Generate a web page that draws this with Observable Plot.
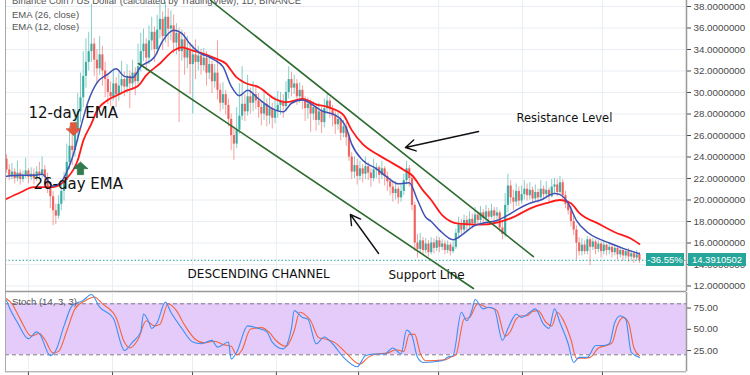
<!DOCTYPE html>
<html><head><meta charset="utf-8">
<script src="https://cdn.jsdelivr.net/npm/d3@7"></script>
<script src="https://cdn.jsdelivr.net/npm/@observablehq/plot@0.6"></script>
<style>
body{margin:0;background:#fff;}
#wrap{position:relative;width:750px;height:375px;overflow:hidden;background:#fff;font-family:"Liberation Sans",Arial,sans-serif;}
#wrap svg{position:absolute;left:0;}
.leg{position:absolute;left:12px;color:#555;font-size:9.5px;white-space:nowrap;line-height:1;}
.tag{position:absolute;background:#26a69a;color:#fff;font-size:9.5px;line-height:13px;height:13px;text-align:center;white-space:nowrap;}
</style></head><body><div id="wrap"></div>
<script>
// ---------- DATA ----------
const titleText = "Binance Coin / US Dollar (calculated by TradingView), 1D, BINANCE";
const legendTexts = ["EMA (26, close)", "EMA (12, close)"];
const stochLegend = "Stoch (14, 3, 3)";
const firstOpen = 23.8;
const closes = [
22.8,22.2,22.6,22.0,22.5,21.9,22.3,22.7,22.1,22.4,
22.0,22.6,22.3,22.8,22.1,21.2,20.3,19.0,18.5,19.6,
20.8,21.8,23.5,25.0,24.6,26.5,28.2,29.5,31.5,32.8,
33.8,34.5,33.0,32.2,33.5,32.0,31.2,30.0,29.6,30.8,
29.8,30.6,31.2,30.5,31.5,30.8,31.8,31.0,32.4,33.8,
34.5,33.2,34.8,35.6,34.0,35.8,36.8,35.2,37.0,35.9,
36.2,34.6,35.5,33.8,34.9,33.2,34.0,32.6,33.5,32.8,
33.4,32.5,33.2,31.8,32.6,31.0,31.8,30.2,29.0,29.8,
28.8,27.5,26.0,25.2,26.5,27.8,28.9,28.2,29.6,29.0,
29.8,29.2,28.6,28.0,28.9,27.8,28.5,27.6,28.3,28.8,
29.2,28.7,30.0,31.2,30.4,30.8,29.6,30.2,29.2,28.5,
28.9,28.0,28.6,27.4,28.2,27.2,28.5,29.2,28.4,27.8,
27.0,27.5,26.2,26.8,25.8,24.0,22.6,23.2,22.2,22.9,
22.4,23.1,22.5,22.0,22.8,23.0,22.3,22.9,22.2,21.7,
21.2,20.6,21.0,20.2,20.8,21.8,22.9,22.0,19.5,16.0,
15.4,16.2,15.3,15.9,15.1,16.0,15.5,16.2,15.6,15.9,
15.3,15.8,15.2,15.6,16.9,17.7,17.2,18.1,17.6,18.2,
17.8,18.6,18.1,18.8,18.3,18.9,18.4,19.0,18.5,18.8,
17.4,16.8,19.5,21.3,20.2,19.8,20.8,19.9,20.5,21.0,
20.4,20.9,20.1,20.7,20.2,21.0,20.5,20.9,20.3,21.2,
21.4,20.7,21.6,20.4,19.6,19.0,18.0,17.2,16.0,15.2,
15.8,15.2,16.3,15.6,16.1,15.4,15.9,15.2,15.8,15.3,
15.6,15.1,15.5,14.9,15.3,14.8,15.2,14.7,15.0,14.6,
14.9,14.3910502];
const highs = [
24.2,23.3,23.4,22.9,23.6,22.8,22.7,23.9,22.9,23.0,
22.9,23.1,23.5,24.0,23.2,22.5,21.6,20.8,19.6,20.4,
21.5,22.6,25.2,26.8,26.2,28.4,29.9,31.8,33.8,35.0,
35.6,38.2,35.0,34.0,35.2,34.3,32.8,31.7,31.0,32.2,
31.4,31.8,32.9,31.9,32.6,32.0,33.0,32.3,34.5,35.5,
35.9,35.0,36.2,37.0,36.1,37.2,38.3,37.5,38.4,37.8,
37.6,37.2,36.4,36.0,35.8,35.6,35.2,34.6,34.4,34.9,
34.3,34.0,34.1,33.8,33.4,32.9,32.6,34.8,30.8,30.9,
30.2,29.4,28.0,26.8,28.6,30.8,32.4,29.8,31.6,30.4,
31.0,30.5,29.9,29.2,30.0,29.4,29.5,29.0,29.6,30.1,
30.0,29.8,31.0,32.4,31.9,31.6,31.2,30.9,30.6,29.6,
29.5,29.3,29.1,28.9,29.0,28.6,29.4,30.0,29.5,28.8,
28.4,28.2,27.8,27.4,27.2,26.2,24.4,24.0,23.8,23.6,
23.3,24.0,23.5,22.9,23.8,23.4,23.2,23.6,23.1,22.6,
22.0,21.6,21.7,21.3,21.4,22.4,23.6,23.2,22.3,19.8,
16.8,16.9,16.5,16.4,16.2,16.5,16.4,16.6,16.5,16.3,
16.2,16.2,16.0,16.1,17.3,18.4,18.2,18.6,18.5,18.9,
18.7,19.3,18.9,19.4,19.1,19.5,19.2,19.6,19.3,19.3,
19.0,17.9,20.6,22.4,21.8,20.9,21.5,21.2,21.3,21.8,
21.5,21.6,21.2,21.4,21.0,21.8,21.3,21.7,21.1,21.9,
22.0,21.9,22.2,21.9,20.8,19.9,19.4,18.5,17.6,16.5,
16.4,16.2,16.6,16.5,16.4,16.3,16.2,16.1,16.2,15.9,
16.0,15.9,15.8,15.7,15.6,15.5,15.4,15.5,15.3,15.2,
15.3,15.1];
const lows = [
22.5,21.8,21.9,21.5,21.7,21.4,21.6,22.0,21.5,21.8,
21.4,21.7,21.9,22.0,21.5,20.6,19.2,17.6,17.7,18.2,
19.0,19.9,21.0,22.8,23.2,24.0,25.4,27.2,28.6,30.4,
32.0,32.8,31.5,30.8,31.6,30.6,29.5,28.9,28.7,29.2,
28.6,29.2,29.8,29.6,29.9,28.5,30.2,29.7,30.6,31.9,
32.9,32.0,32.6,33.9,32.8,33.5,35.0,33.9,34.6,34.2,
34.8,33.6,33.5,27.2,32.9,31.6,32.2,29.8,28.0,31.2,
32.0,31.6,32.0,30.6,31.2,29.9,30.4,29.3,28.2,28.4,
27.9,26.8,24.6,23.7,24.8,26.1,27.4,27.3,27.8,28.0,
28.2,28.4,27.6,26.9,27.4,26.8,27.0,26.6,27.1,27.6,
27.9,27.6,28.2,29.4,29.6,29.8,28.8,29.0,28.4,27.3,
27.5,26.3,27.4,26.4,26.9,26.2,26.7,28.0,27.6,26.8,
26.1,26.5,25.5,25.8,25.0,23.6,21.9,22.0,21.4,21.8,
21.6,21.9,21.8,21.2,21.7,22.0,21.5,21.9,21.3,20.8,
20.4,19.8,20.0,19.6,19.8,20.4,21.4,21.2,19.0,15.2,
14.6,15.0,14.9,15.0,14.7,14.9,15.0,15.2,15.1,15.3,
14.9,15.0,14.8,15.0,15.4,16.5,16.8,16.9,17.1,17.2,
17.3,17.6,17.6,17.8,17.7,18.0,17.9,18.2,17.7,17.9,
17.0,16.3,16.5,18.8,19.6,19.0,19.4,19.4,19.6,20.0,
19.9,20.0,19.7,19.8,19.7,19.9,20.0,20.1,19.8,20.2,
20.6,20.3,20.5,20.0,19.2,18.6,17.5,16.7,14.4,14.8,
14.8,14.9,14.9,13.9,15.3,14.9,15.1,14.6,14.9,14.8,
14.9,14.6,14.8,14.4,14.6,14.3,14.5,14.2,14.4,14.1,
14.3,14.1];
// EMA readings [bar, value]
const ema26 = [[0,20.1],[5,20.7],[10,21.2],[17,21.2],[22,22.0],[26,23.7],[28,25.5],[31,27.1],[33,28.3],[37,29.3],[40,29.7],[44,30.2],[48,30.6],[51,31.6],[56,32.7],[61,33.9],[64,34.2],[68,33.9],[72,33.6],[76,33.2],[80,32.7],[84,31.4],[87,30.9],[92,30.5],[98,29.4],[102,29.1],[108,29.4],[113,28.9],[118,28.6],[123,27.9],[126,26.5],[130,25.2],[135,24.3],[139,23.7],[145,22.8],[148,22.3],[152,20.9],[155,20.0],[159,18.6],[165,17.8],[173,17.7],[179,17.9],[185,18.4],[191,19.2],[197,19.7],[202,20.0],[206,19.7],[209,18.8],[216,17.8],[222,17.0],[228,16.4],[231,15.9]];
const ema12 = [[0,22.2],[5,22.3],[10,22.3],[13,22.4],[17,21.3],[20,21.7],[22,22.6],[24,23.9],[27,26.7],[30,29.3],[33,30.9],[37,31.7],[40,32.2],[43,31.5],[46,31.4],[49,32.4],[54,33.3],[57,34.8],[61,35.8],[64,35.5],[67,34.5],[71,33.6],[74,33.3],[76,33.0],[79,32.4],[82,30.6],[85,29.7],[88,30.2],[92,29.4],[97,28.5],[101,28.2],[104,29.0],[108,29.3],[112,28.8],[115,28.3],[120,27.9],[124,26.7],[126,25.2],[130,23.7],[135,22.9],[139,22.1],[143,21.5],[147,21.6],[150,20.0],[153,18.4],[155,18.0],[158,17.2],[163,16.3],[167,16.9],[170,17.5],[175,17.9],[179,18.1],[183,18.6],[187,19.2],[191,19.7],[195,20.0],[200,20.6],[202,20.5],[205,19.7],[208,18.1],[212,17.0],[216,16.4],[220,16.0],[225,15.5],[231,15.0]];
// Stochastic readings [bar, value]
const stochK = [[0,84],[1,76],[4,58],[8,39],[11,47],[12,45],[16,19],[18,25],[21,54],[24,78],[28,84],[31,91],[34,76],[39,63],[42,31],[43,25],[46,35],[49,47],[50,68],[52,58],[53,51],[55,58],[58,82],[60,70],[64,51],[68,35],[71,33],[75,37],[77,29],[81,35],[82,15],[84,23],[88,54],[92,51],[95,47],[97,35],[101,27],[104,51],[105,72],[108,64],[110,62],[113,33],[116,41],[119,33],[123,17],[128,6],[131,19],[134,21],[138,21],[141,28],[144,21],[146,49],[148,42],[150,17],[152,11],[159,13],[161,17],[163,19],[166,70],[168,60],[170,74],[171,85],[174,74],[176,76],[178,74],[181,37],[183,51],[185,64],[186,68],[188,64],[191,70],[193,74],[196,56],[198,51],[200,74],[202,58],[205,33],[207,11],[209,17],[212,17],[215,31],[218,31],[220,33],[222,58],[224,66],[226,62],[228,23],[231,17]];
const stochD = [[0,86],[2,80],[5,62],[9,42],[12,45],[14,38],[17,22],[19,24],[22,48],[25,74],[29,84],[32,88],[35,80],[40,64],[43,35],[45,28],[48,38],[51,60],[54,54],[56,56],[59,80],[62,72],[65,55],[69,38],[72,34],[76,36],[79,32],[82,30],[84,20],[86,26],[89,50],[93,52],[96,46],[98,38],[102,30],[105,48],[107,70],[110,64],[111,60],[114,40],[117,38],[120,34],[124,22],[129,9],[132,17],[135,21],[139,22],[142,26],[145,24],[147,44],[149,44],[151,22],[153,13],[160,14],[162,17],[164,20],[167,62],[169,64],[172,80],[175,76],[177,75],[179,72],[182,42],[184,48],[186,62],[188,66],[190,66],[192,71],[194,72],[197,58],[199,54],[201,70],[203,62],[206,38],[208,16],[210,16],[213,17],[216,28],[219,31],[221,34],[223,55],[225,64],[227,58],[229,28],[231,19]];
const priceTicks = [12,14,16,18,20,22,24,26,28,30,32,34,36,38];
const stochTicks = [25,50,75];
const stochBand = [20,80];
const monthTicks = [8,38.7,67.9,98.5,128.5,157.7,188.3,217.5];
// channel lines [bar, price]
const channelUpper = [[74.5,38.56],[192.3,14.74]];
const channelLower = [[48.2,32.7],[170.4,11.77]];
const changeText = "-36.55%";
// annotations
const noteLabels = ["12-day EMA","26-day EMA","Resistance Level","DESCENDING CHANNEL","Support Line"];
const noteBars   = [8.0, 9.85, 186.1, 66.1, 139.4];
const notePrices = [28.05, 21.44, 27.58, 13.07, 12.98];
const arrowTails = [[172.3,26.37],[135.8,15.02]];
const arrowHeads = [[145.6,24.88],[125.5,18.65]];
const markerBars = [24.45, 27.0];     // red down marker, green up marker
const markerPrices = [26.6, 22.95];

// ---------- BUILD ----------
const candles = closes.map((c,i)=>({i, open: i===0?firstOpen:closes[i-1], close:c, high:highs[i], low:lows[i]}));
const upC = candles.filter(d=>d.close>=d.open), downC = candles.filter(d=>d.close<d.open);
const pairs = a => a.map(([i,v])=>({i,v}));
const notes = noteLabels.map((t,k)=>({t, i:noteBars[k], p:notePrices[k]}));
const arrows = arrowTails.map((t,k)=>({x1:t[0],y1:t[1],x2:arrowHeads[k][0],y2:arrowHeads[k][1]}));
const markers = markerBars.map((b,k)=>({i:b,p:markerPrices[k]}));
const lastPrice = closes[closes.length-1];
const xDomain = [-0.365, 248.18];
const yDomain = [11.488, 38.558];
const UP="#26a69a", DN="#ef5350";
const annFont = "DejaVu Sans, sans-serif";

// block-arrow symbols (d3 symbol-type interface)
function blockArrow(dir){
  return {draw(ctx, size){
    const r = Math.sqrt(size/Math.PI), s = dir;
    ctx.moveTo(-0.42*r,-s*0.85*r); ctx.lineTo(0.42*r,-s*0.85*r); ctx.lineTo(0.42*r,-s*0.05*r);
    ctx.lineTo(r,-s*0.05*r); ctx.lineTo(0,s*0.85*r); ctx.lineTo(-r,-s*0.05*r); ctx.lineTo(-0.42*r,-s*0.05*r); ctx.closePath();
  }};
}

const main = Plot.plot({
  width:750, height:292, marginLeft:5, marginRight:64, marginTop:0, marginBottom:1,
  style:{background:"transparent", fontFamily:"Liberation Sans, Arial, sans-serif", fontSize:"9.8px", color:"#4a4a4a", overflow:"visible"},
  x:{domain:xDomain, axis:null},
  y:{domain:yDomain, axis:"right", ticks:priceTicks, tickFormat:d=>d.toFixed(7), tickSize:4, tickPadding:3, label:null},
  marks:[
    Plot.ruleY(priceTicks,{stroke:"#e9eef4"}),
    Plot.ruleX(monthTicks,{stroke:"#e9eef4"}),
    Plot.ruleX(upC,{x:"i",y1:"low",y2:"high",stroke:UP,strokeOpacity:0.55}),
    Plot.ruleX(downC,{x:"i",y1:"low",y2:"high",stroke:DN,strokeOpacity:0.55}),
    Plot.ruleX(upC,{x:"i",y1:"open",y2:"close",stroke:UP,strokeWidth:2.2,strokeOpacity:0.85}),
    Plot.ruleX(downC,{x:"i",y1:"open",y2:"close",stroke:DN,strokeWidth:2.2,strokeOpacity:0.85}),
    Plot.line(pairs(ema26),{x:"i",y:"v",stroke:"#ff1a1a",strokeWidth:1.8,curve:"monotone-x"}),
    Plot.line(pairs(ema12),{x:"i",y:"v",stroke:"#3f51b5",strokeWidth:1.5,curve:"monotone-x"}),
    Plot.line(pairs(channelUpper),{x:"i",y:"v",stroke:"#2e6b2e",strokeWidth:1.6,clip:true}),
    Plot.line(pairs(channelLower),{x:"i",y:"v",stroke:"#2e6b2e",strokeWidth:1.6,clip:true}),
    Plot.ruleY([lastPrice],{stroke:UP,strokeDasharray:"1.5,2",strokeWidth:1}),
    Plot.arrow(arrows,{x1:"x1",y1:"y1",x2:"x2",y2:"y2",stroke:"#111",strokeWidth:1.4,headLength:12}),
    Plot.dot(markers.slice(0,1),{x:"i",y:"p",symbol:blockArrow(1),r:7.5,fill:"#e3583c",stroke:"#c9472f",strokeWidth:0.6}),
    Plot.dot(markers.slice(1),{x:"i",y:"p",symbol:blockArrow(-1),r:7.5,fill:"#2f7d4f",stroke:"#266a42",strokeWidth:0.6}),
    Plot.text(notes.slice(0,2),{x:"i",y:"p",text:"t",textAnchor:"start",fontSize:15,fill:"#111",fontFamily:annFont}),
    Plot.text(notes.slice(2,3),{x:"i",y:"p",text:"t",textAnchor:"start",fontSize:11.5,fill:"#111",fontFamily:annFont}),
    Plot.text(notes.slice(3),{x:"i",y:"p",text:"t",textAnchor:"start",fontSize:12,fill:"#111",fontFamily:annFont}),
    Plot.ruleX([xDomain[0]],{stroke:"#aaa"}),
    Plot.ruleX([xDomain[1]],{stroke:"#999",strokeWidth:1.5}),
    Plot.ruleY([yDomain[0]],{stroke:"#999",strokeWidth:1.5})
  ]
});
main.style.top="0px";

const stoch = Plot.plot({
  width:750, height:83, marginLeft:5, marginRight:64, marginTop:0, marginBottom:3.7,
  style:{background:"transparent", fontFamily:"Liberation Sans, Arial, sans-serif", fontSize:"9.8px", color:"#4a4a4a", overflow:"visible"},
  x:{domain:xDomain, axis:"bottom", ticks:monthTicks, tickFormat:()=>"", tickSize:4, label:null},
  y:{domain:[0,93.3], axis:"right", ticks:stochTicks, tickFormat:d=>d.toFixed(2), tickSize:4, tickPadding:3, label:null},
  marks:[
    Plot.ruleX(monthTicks,{stroke:"#e9eef4"}),
    Plot.rect([{x1:xDomain[0],x2:xDomain[1],lo:stochBand[0],hi:stochBand[1]}],{x1:"x1",x2:"x2",y1:"lo",y2:"hi",fill:"#e4cbfa"}),
    Plot.ruleY(stochBand,{stroke:"#7d7a86",strokeDasharray:"4,3"}),
    Plot.line(pairs(stochD),{x:"i",y:"v",stroke:"#f4643a",strokeWidth:1.1,curve:"monotone-x"}),
    Plot.line(pairs(stochK),{x:"i",y:"v",stroke:"#3d8ff5",strokeWidth:1.1,curve:"monotone-x"}),
    Plot.ruleX([xDomain[0]],{stroke:"#aaa"}),
    Plot.ruleX([xDomain[1]],{stroke:"#999",strokeWidth:1.5}),
    Plot.ruleY([0],{stroke:"#999"})
  ]
});
stoch.style.top="292px";

const wrap = document.getElementById("wrap");
wrap.appendChild(main);
wrap.appendChild(stoch);

function addDiv(cls, text, css){const d=document.createElement("div");d.className=cls;d.textContent=text;Object.assign(d.style,css);wrap.appendChild(d);return d;}
addDiv("leg", titleText, {top:"-4px"});
addDiv("leg", legendTexts[0], {top:"10px"});
addDiv("leg", legendTexts[1], {top:"22px"});
addDiv("leg", stochLegend, {top:"297px"});
const yPix = main.scale("y").apply(lastPrice);
const xRight = main.scale("x").apply(xDomain[1]);
addDiv("tag", lastPrice.toFixed(7), {left:(xRight+2)+"px", top:(yPix-6.5)+"px", width:"58px"});
addDiv("tag", changeText, {left:(xRight-40)+"px", top:(yPix-6.5)+"px", width:"38px"});
</script></body></html>
